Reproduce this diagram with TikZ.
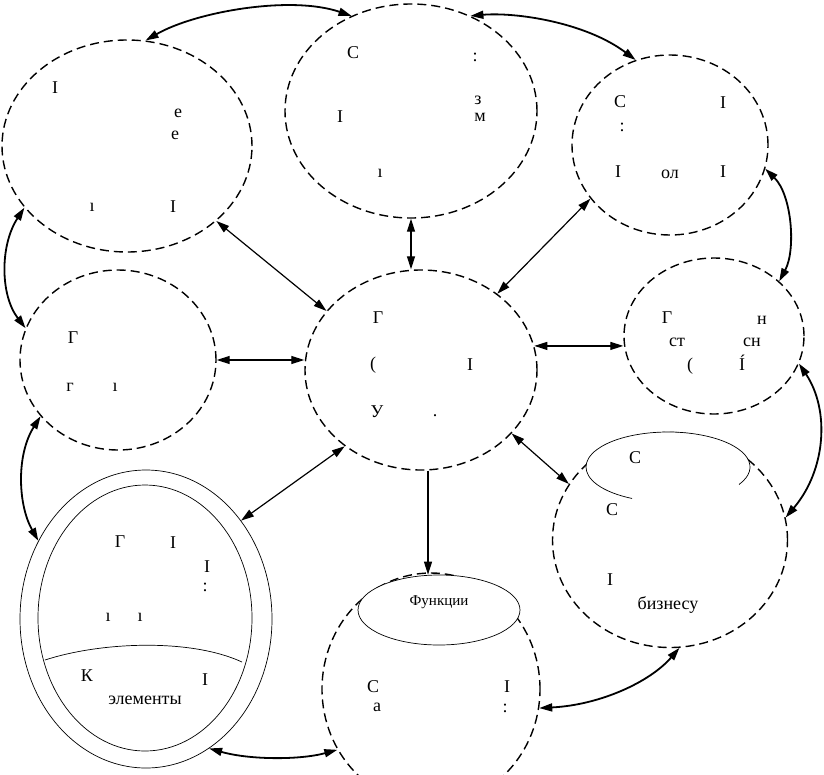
\documentclass[tikz,border=0pt]{standalone}
\usepackage{fontspec}
\setmainfont{Liberation Serif}
\usetikzlibrary{shapes.geometric,arrows.meta}

\begin{document}
\begin{tikzpicture}[x=1pt, y=-1pt,
    zone/.style={draw, ellipse, dash pattern=on 9pt off 5pt, line width=1.4pt, inner sep=0pt},
    ring/.style={draw, ellipse, line width=0.7pt, fill=white, inner sep=0pt},
    duplex/.style={{Triangle[length=13pt,width=8pt]}-{Triangle[length=13pt,width=8pt]}, line width=1.2pt},
    bowlink/.style={duplex, line width=1.8pt},
    frag/.style={inner sep=0pt, font=\fontsize{18}{20}\selectfont}]
    \clip (0,0) rectangle (824,774);

    % Dashed zones
    \node[zone, minimum width=250pt, minimum height=212pt] (tl) at (127,146) {};
    \node[zone, minimum width=252pt, minimum height=214pt] (tc) at (411,111) {};
    \node[zone, minimum width=196pt, minimum height=180pt] (tr) at (670,145) {};
    \node[zone, minimum width=232pt, minimum height=200pt] (c) at (421,370) {};
    \node[zone, minimum width=180pt, minimum height=156pt] (rm) at (714,336) {};
    \node[zone, minimum width=196pt, minimum height=180pt] (lm) at (118,360) {};
    \node[zone, minimum width=235pt, minimum height=215pt] (br) at (670,540) {};
    \node[zone, minimum width=218pt, minimum height=232pt] (bc) at (431,689) {};

    % Solid shapes inside the zones
    \node[ring, minimum width=252pt, minimum height=298pt] (dbl) at (146,619) {};
    \node[ring, minimum width=214pt, minimum height=266pt] (dblin) at (145,618) {};
    \draw[line width=0.7pt] (45,660) .. controls (100,642) and (190,638) .. (242,662);
    \node[ring, minimum width=162pt, minimum height=70pt] (bcin) at (439,610) {};
    \fill[white] (668,467) ellipse [x radius=82, y radius=35];
    \draw[line width=0.7pt] (668,467) ++(30:82 and 35) arc[start angle=30, end angle=-244, x radius=82, y radius=35];

    % Links round the outside
    \draw[bowlink] (tl.80) .. controls (195,12) and (290,-5) .. (tc.122);
    \draw[bowlink] (tc.58) .. controls (515,12) and (585,22) .. (tr.112);
    \draw[bowlink] (tr.-14) .. controls (792,195) and (796,250) .. (rm.40);
    \draw[bowlink] (rm.-18) .. controls (830,410) and (826,470) .. (br.11);
    \draw[bowlink] (br.-85) .. controls (650,682) and (600,705) .. (bc.-10);
    \draw[bowlink] (bc.213) .. controls (300,760) and (250,760) .. (dbl.-64);
    \draw[bowlink] (lm.216) .. controls (16,455) and (18,505) .. (dbl.144);
    \draw[bowlink] (tl.211) .. controls (0,245) and (0,295) .. (lm.161);

    % Spokes from the centre
    \coordinate (drop) at (428,0);
    \draw[duplex] (tl.-40) -- (c.148);
    \draw[duplex] (tc.south) -- (tc.south |- c.north);
    \draw[duplex] (tr.214) -- (c.45);
    \draw[duplex] (lm.east) -- (lm.east -| c.west);
    \draw[duplex] (c.12) -- (rm.west |- c.12);
    \draw[duplex] (c.225) -- (dbl.46);
    \draw[duplex] (c.-35) -- (br.151);
    \draw[-{Triangle[length=13pt,width=8pt]}, line width=1.2pt] (c.south -| drop) -- (bcin.north -| drop);

    % Remains of the labels
    \node[frag] (tlA) at (55,88) {I};
    \node[frag] (tlB) at (178,113) {е};
    \node[frag] (tlC) at (175,135) {е};
    \node[frag] (tlD) at (92,207) {ı};
    \node[frag] (tlE) at (173,207) {I};
    \node[frag] (tcA) at (353,53) {С};
    \node[frag] (tcB) at (475,57) {:};
    \node[frag] (tcC) at (478,100) {з};
    \node[frag] (tcD) at (340,117) {I};
    \node[frag] (tcE) at (480,117) {м};
    \node[frag] (tcF) at (380,173) {ı};
    \node[frag] (trA) at (620,102) {С};
    \node[frag] (trB) at (723,103) {I};
    \node[frag] (trC) at (622,127) {:};
    \node[frag] (trD) at (618,172) {I};
    \node[frag] (trE) at (670,174) {ол};
    \node[frag] (trF) at (723,172) {I};
    \node[frag] (cA) at (378,318) {Г};
    \node[frag] (cB) at (373,365) {(};
    \node[frag] (cC) at (470,365) {I};
    \node[frag] (cD) at (377,412) {У};
    \node[frag] (cE) at (435,416) {.};
    \node[frag] (rmA) at (667,318) {Г};
    \node[frag] (rmB) at (762,320) {н};
    \node[frag] (rmC) at (677,342) {ст};
    \node[frag] (rmD) at (752,342) {сн};
    \node[frag] (rmE) at (690,366) {(};
    \node[frag] (rmF) at (742,363) {Í};
    \node[frag] (lmA) at (73,338) {Г};
    \node[frag] (lmB) at (70,387) {г};
    \node[frag] (lmC) at (115,387) {ı};
    \node[frag] (dbA) at (120,542) {Г};
    \node[frag] (dbB) at (173,543) {I};
    \node[frag] (dbC) at (207,567) {I};
    \node[frag] (dbD) at (205,587) {:};
    \node[frag] (dbE) at (108,617) {ı};
    \node[frag] (dbF) at (140,617) {ı};
    \node[frag] (dbG) at (87,676) {К};
    \node[frag] (dbH) at (205,680) {I};
    \node[frag] (dbI) at (145,700) {элементы};
    \node[frag, font=\fontsize{15}{17}\selectfont] (bcA) at (439,602) {Функции};
    \node[frag] (bcB) at (373,687) {С};
    \node[frag] (bcC) at (507,687) {I};
    \node[frag] (bcD) at (377,707) {а};
    \node[frag] (bcE) at (505,708) {:};
    \node[frag] (brA) at (635,458) {С};
    \node[frag] (brB) at (612,510) {С};
    \node[frag] (brC) at (610,580) {I};
    \node[frag] (brD) at (668,605) {бизнесу};
\end{tikzpicture}
\end{document}
